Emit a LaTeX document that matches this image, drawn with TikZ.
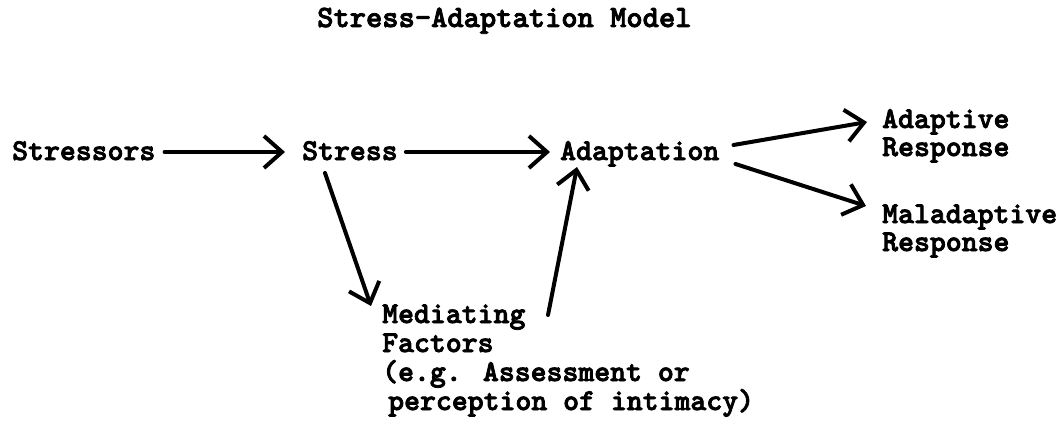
\documentclass[tikz,border=0pt]{standalone}
\usepackage{fontspec}
\usetikzlibrary{arrows.meta}
\newfontfamily\tw[FakeBold=2.6]{lmmonolt10-bold.otf}
\begin{document}
\begin{tikzpicture}[x=1pt,y=-1pt,
  lbl/.style={anchor=base west,inner sep=0pt,font=\tw\fontsize{30.3}{33}\selectfont},
  arr/.style={line width=4pt,line cap=round,
    -{Straight Barb[length=18pt,width=32pt,line width=4pt]}}]
\useasboundingbox (0,0) rectangle (1062,425);
\node[lbl,font=\tw\fontsize{31}{33}\selectfont] (title) at (317,27) {Stress-Adaptation Model};
\node[lbl] (stressors) at (12,160) {Stressors};
\node[lbl] (stress) at (302,160) {Stress};
\node[lbl] (adaptation) at (560,160) {Adaptation};
\node[lbl] (adaptive) at (882,128) {Adaptive};
\node[lbl] (adaptiveR) at (882,156) {Response};
\node[lbl] (maladaptive) at (882,223) {Maladaptive};
\node[lbl] (maladaptiveR) at (882,251) {Response};
\node[lbl] (mediating) at (382,323) {Mediating};
\node[lbl] (factors) at (382,352) {Factors};
\node[lbl] (eg) at (382,381) {(e.g. Assessment or};
\node[lbl] (perception) at (388,410) {perception of intimacy)};
\draw[arr] ([shift={(9,-8)}]stressors.base east) -- ([shift={(-17,-8)}]stress.base west);
\draw[arr] ([shift={(8,-8)}]stress.base east) -- ([shift={(-10,-8)}]adaptation.base west);
\draw[arr] ([shift={(14,-15)}]adaptation.base east) -- ([shift={(-15,-6)}]adaptive.base west);
\draw[arr] ([shift={(16,4)}]adaptation.base east) -- ([shift={(-16,-17)}]maladaptive.base west);
\draw[arr] ([shift={(23,13)}]stress.base west) -- ([shift={(-11,-17)}]mediating.base west);
\draw[arr] ([shift={(166,-8)}]mediating.base west) -- ([shift={(17,7)}]adaptation.base west);
\end{tikzpicture}
\end{document}
